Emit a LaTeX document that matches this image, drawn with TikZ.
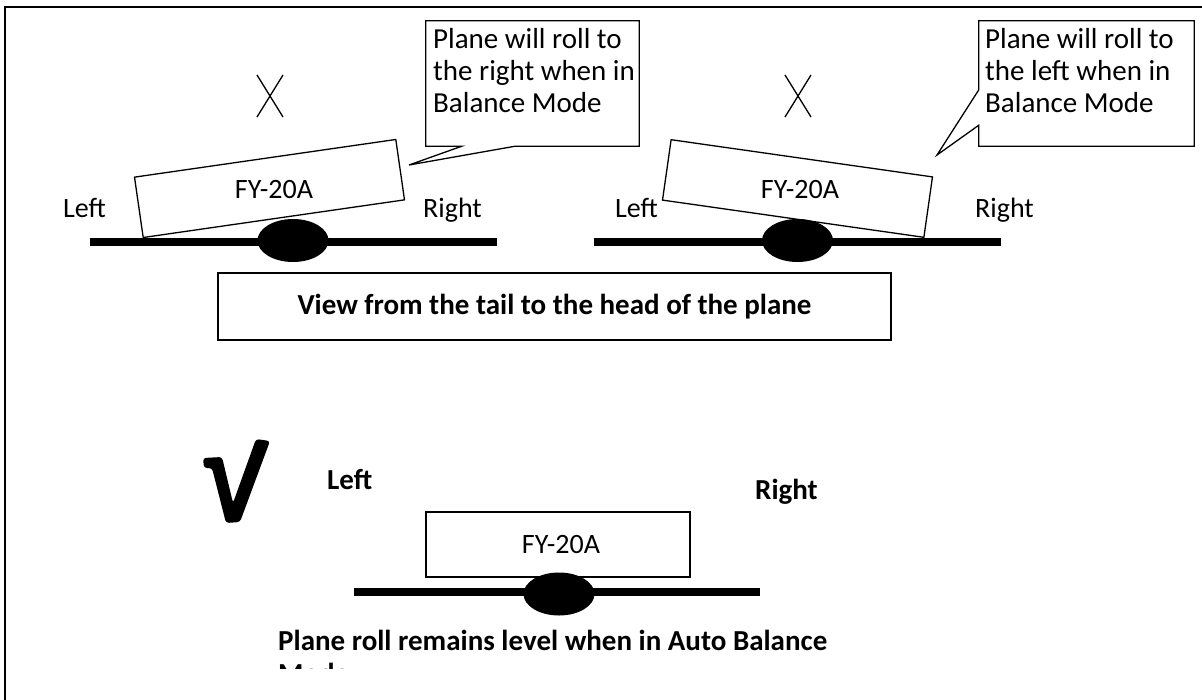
\documentclass[tikz,border=0pt]{standalone}
\usepackage{fontspec}
\setmainfont{Carlito}
\usetikzlibrary{shapes.geometric}

\begin{document}
\begin{tikzpicture}[x=1pt,y=-1pt,
    every node/.style={inner sep=0pt,font=\fontsize{28}{32}\selectfont},
    avion/.style={draw,line width=1.3pt,minimum width=264pt,minimum height=61pt},
    rueda/.style={ellipse,fill=black,minimum width=71pt,minimum height=43pt},
    nota/.style={line width=1.3pt},
    texto nota/.style={font=\fontsize{29}{32}\selectfont,anchor=base west},
    negrita/.style={font=\fontsize{29}{33}\selectfont\bfseries}]
\def\grosor{8pt};%Grosor de las alas
\def\cruz{1.3pt};%Grosor de la X
\def\ancho{206pt};%Ancho del texto de las notas

%Marco
\useasboundingbox (0,0) rectangle (1202,699);
\draw[line width=2.5pt] (1215,7) -- (5,7) -- (5,715);

%Aviones
\node[avion,rotate=8.2] (avion1) at (269.5,188.5) {};
\node[avion,rotate=-8.1] (avion2) at (797.5,188.5) {};
\node[avion,minimum height=65pt] (avion3) at (558,544.5) {};
\node (matricula1) at (274,190) {FY-20A};
\node (matricula2) at (800,190) {FY-20A};
\node (matricula3) at (561,545) {FY-20A};

%Alas y ruedas
\foreach \n/\xa/\xb/\y/\xr/\yr in {1/90/497/242/293/240.5,2/594/1001/242/797.5/240.5,3/354/760/592/559/594}{
    \coordinate (ala\n a) at (\xa,\y);
    \coordinate (ala\n b) at (\xb,\y);
    \draw[line width=\grosor] (ala\n a) -- (ala\n b);
    \node[rueda] (rueda\n) at (\xr,\yr) {};
}

%Lados
\node[anchor=base west] (izq1) at (63,217) {Left};
\node[anchor=base west] (der1) at (423,217) {Right};
\node[anchor=base west] (izq2) at (615,217) {Left};
\node[anchor=base west] (der2) at (975,217) {Right};
\node[negrita,anchor=base west] (izq3) at (327,489) {Left};
\node[negrita,anchor=base west] (der3) at (755,499) {Right};

%Marcas X
\foreach \x in {270,798}{
    \draw[line width=\cruz] (\x-13,75) -- (\x+13,117) (\x+13,75) -- (\x-13,117);
}

%Notas
\node[minimum width=213pt,minimum height=125pt] (nota1) at (532.5,83.5) {};
\node[minimum width=215pt,minimum height=125pt] (nota2) at (1086.5,83.5) {};
\coordinate (punta1) at (409,165);
\coordinate (punta2) at (937,155);
\draw[nota] (nota1.north west) -- (nota1.north east) -- (nota1.south east)
    -- ([xshift=-124pt]nota1.south east) -- (punta1) -- ([xshift=36pt]nota1.south west)
    -- (nota1.south west) -- cycle;
\draw[nota] (nota2.north west) -- (nota2.north east) -- (nota2.south east)
    -- (nota2.south west) -- ([yshift=21pt]nota2.south west) -- (punta2)
    -- ([yshift=-69pt]nota2.north west) -- cycle;
\node[texto nota] (texto1) at (433,48) {\parbox[t]{\ancho}{Plane will roll to\\the right when in\\Balance Mode}};
\node[texto nota] (texto2) at (985,48) {\parbox[t]{\ancho}{Plane will roll to\\the left when in\\Balance Mode}};

%Vista
\node[draw,line width=1.3pt,minimum width=673pt,minimum height=67pt,negrita] (vista) at (554.5,306.5) {View from the tail to the head of the plane};

%Visto bueno
\fill[rounded corners=3pt] (203,458) -- (222,457) -- (233,503) -- (256,439) -- (270,441)
    -- (240,522) -- (226,523) -- (212,468) -- (204,468) -- cycle;

%Leyenda
\begin{scope}
\clip (0,0) rectangle (1202,668);
\node[negrita,anchor=base west] (leyenda) at (278,650) {\parbox[t]{600pt}{Plane roll remains level when in Auto Balance\\Mode}};
\end{scope}
\end{tikzpicture}
\end{document}
